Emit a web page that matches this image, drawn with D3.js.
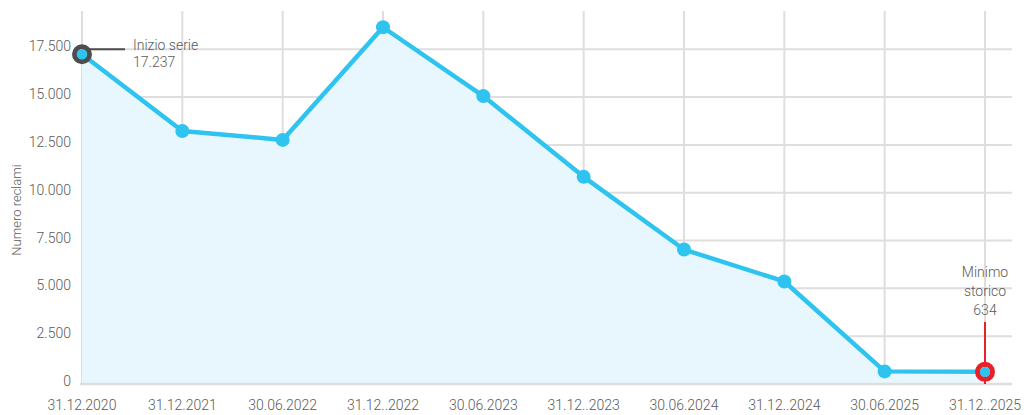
<!DOCTYPE html>
<html>
<head>
<meta charset="utf-8">
<script src="https://cdn.jsdelivr.net/npm/d3@7"></script>
<style>
  body { margin: 0; background: #fff; }
  text { font-family: Roboto, "DejaVu Sans Condensed", sans-serif; fill: #5a5a5a; font-weight: 300; }
</style>
</head>
<body>
<svg id="chart" width="1024" height="415"></svg>
<script>
// data
var categories = ["31.12.2020", "31.12.2021", "30.06.2022", "31.12..2022", "30.06.2023",
                  "31.12..2023", "30.06.2024", "31.12..2024", "30.06.2025", "31.12..2025"];
var reclami    = [17237, 13230, 12760, 18650, 15050, 10830, 7030, 5360, 660, 634];
var yTicks     = [0, 2500, 5000, 7500, 10000, 12500, 15000, 17500];
var yTitle     = "Numero reclami";

var BLUE = "#2fc3ef", FILL = "#e8f7fd", GRID = "#dedede", RED = "#e8202a", DARK = "#4d4d4d";

var svg = d3.select("#chart");
var x = d3.scalePoint().domain(categories).range([82, 985]);
var y = d3.scaleLinear().domain([0, 19500]).range([384, 11]);
var fmt = function(v){ return v == 0 ? "0" : d3.format(",")(v).replace(/,/g, "."); };

// grid
svg.append("g").selectAll("line").data(yTicks.slice(1)).enter().append("line")
  .attr("x1", 82).attr("x2", 1012)
  .attr("y1", function(d){ return y(d); }).attr("y2", function(d){ return y(d); })
  .style("stroke", GRID).style("stroke-width", 2);
svg.append("g").selectAll("line").data(categories).enter().append("line")
  .attr("x1", function(d){ return x(d); }).attr("x2", function(d){ return x(d); })
  .attr("y1", 11).attr("y2", y(0))
  .style("stroke", GRID).style("stroke-width", 2);

// area + line
svg.append("path").datum(reclami)
  .attr("d", d3.area().x(function(d,i){ return x(categories[i]); }).y0(y(0)).y1(function(d){ return y(d); }))
  .style("fill", FILL);
svg.append("line").attr("x1", 80).attr("x2", 1012).attr("y1", y(0)).attr("y2", y(0))
  .style("stroke", GRID).style("stroke-width", 2.5);
svg.append("path").datum(reclami)
  .attr("d", d3.line().x(function(d,i){ return x(categories[i]); }).y(function(d){ return y(d); }))
  .style("fill", "none").style("stroke", BLUE).style("stroke-width", 4.5).style("stroke-linejoin", "round");

// annotations
var first = reclami[0], last = reclami[reclami.length - 1];
svg.append("line").attr("x1", x(categories[0])).attr("x2", 125)
  .attr("y1", y(17500)).attr("y2", y(17500))
  .style("stroke", DARK).style("stroke-width", 2);
svg.append("line").attr("x1", x(categories[9])).attr("x2", x(categories[9]))
  .attr("y1", 322).attr("y2", y(0))
  .style("stroke", RED).style("stroke-width", 2);

// points
svg.append("g").selectAll("circle").data(reclami).enter().append("circle")
  .attr("cx", function(d,i){ return x(categories[i]); })
  .attr("cy", function(d){ return y(d); })
  .attr("r", function(d,i){ return (i == 0 || i == 9) ? 0 : 7; }).style("fill", BLUE);
[[0, DARK], [9, RED]].forEach(function(p){
  var cx = x(categories[p[0]]), cy = y(reclami[p[0]]);
  svg.append("circle").attr("cx", cx).attr("cy", cy).attr("r", 7.5)
    .style("fill", "none").style("stroke", p[1]).style("stroke-width", 5);
  svg.append("circle").attr("cx", cx).attr("cy", cy).attr("r", 5.2).style("fill", BLUE);
});

svg.append("text").attr("x", 133).attr("y", 50).style("font-size", "14px").text("Inizio serie");
svg.append("text").attr("x", 133).attr("y", 67).style("font-size", "14px").text(fmt(first));
["Minimo", "storico", fmt(last)].forEach(function(t, i){
  svg.append("text").attr("x", x(categories[9])).attr("y", 277 + i * 19)
    .attr("text-anchor", "middle").style("font-size", "14px").text(t);
});

// axes labels
svg.append("g").selectAll("text").data(yTicks).enter().append("text")
  .attr("x", 71).attr("y", function(d){ return y(d) + 2; })
  .attr("text-anchor", "end").style("font-size", "14px").text(fmt);
svg.append("g").selectAll("text").data(categories).enter().append("text")
  .attr("x", function(d){ return x(d); }).attr("y", 410)
  .attr("text-anchor", "middle").style("font-size", "14px").text(function(d){ return d; });
svg.append("text").attr("transform", "translate(21,210) rotate(-90)")
  .attr("text-anchor", "middle").style("font-size", "13px").text(yTitle);
</script>
</body>
</html>
